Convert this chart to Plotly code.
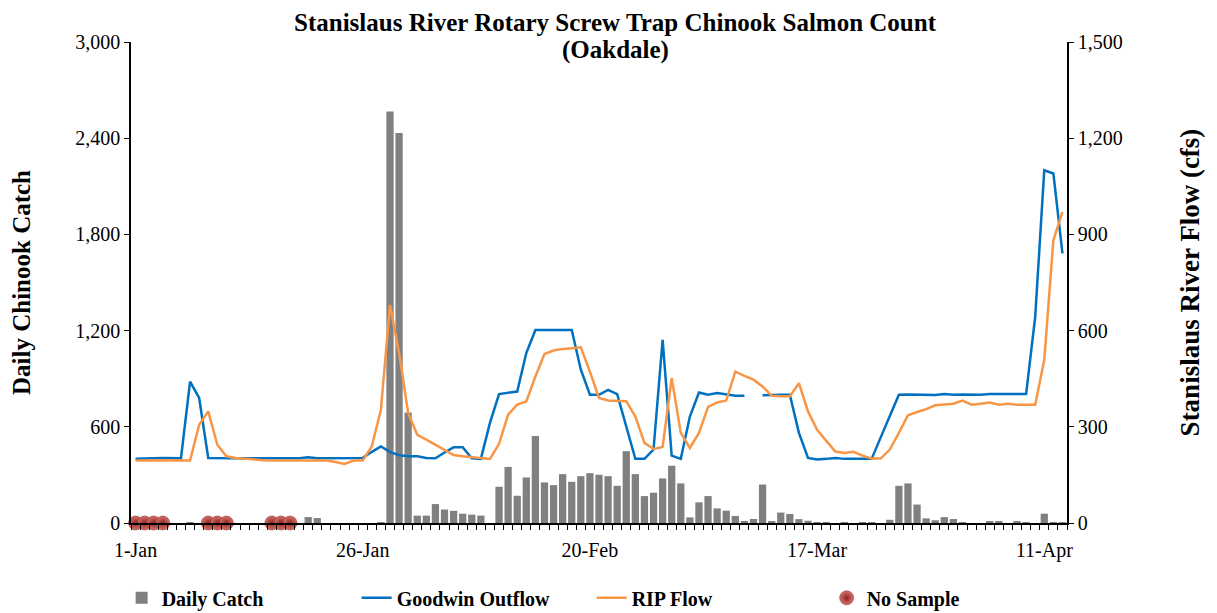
import plotly.graph_objects as go
import pandas as pd

# ---------------- data ----------------
start_date = "2013-01-01"
n_days = 103
dates = [d.strftime("%Y-%m-%d") for d in pd.date_range(start_date, periods=n_days, freq="D")]

daily_catch = [
    0, 0, 0, 0, 0, 0, 3, 0, 0, 0,
    0, 0, 0, 0, 0, 0, 0, 0, 0, 37,
    31, 0, 0, 0, 0, 0, 0, 5, 2566, 2432,
    689, 46, 46, 118, 84, 76, 58, 52, 46, 0,
    226, 350, 170, 284, 543, 253, 236, 305, 257, 292,
    311, 301, 292, 232, 448, 305, 168, 189, 278, 357,
    247, 35, 129, 168, 91, 77, 44, 12, 25, 240,
    12, 65, 56, 24, 14, 3, 2, 0, 4, 0,
    4, 4, 0, 20, 232, 247, 115, 29, 17, 37,
    25, 3, 0, 0, 10, 8, 0, 12, 5, 0,
    58, 4, 2,
]

goodwin_outflow = [
    200, 200, 202, 203, 203, 202, 441, 390, 203, 202,
    202, 202, 202, 202, 202, 202, 202, 202, 202, 205,
    202, 202, 202, 202, 202, 203, 222, 239, 222, 211,
    208, 208, 203, 202, 220, 236, 236, 202, 200, 312,
    402, 405, 410, 530, 602, 602, 602, 602, 602, 478,
    400, 400, 415, 402, 301, 200, 200, 229, 571, 210,
    200, 332, 407, 400, 405, 400, 397, 397, None, 398,
    400, 400, 400, 281, 203, 198, 200, 203, 200, 200,
    200, 200, 267, 333, 400, 401, 400, 400, 399, 402,
    400, 401, 400, 400, 402, 402, 401, 401, 402, 643,
    1100, 1090, 841,
]

rip_flow = [
    195, 194, 195, 196, 195, 195, 195, 306, 348, 244,
    208, 203, 200, 198, 196, 195, 195, 195, 195, 195,
    195, 195, 190, 184, 195, 195, 239, 353, 680, 530,
    343, 275, 260, 244, 226, 212, 208, 206, 203, 200,
    247, 338, 369, 379, 457, 527, 538, 543, 545, 548,
    472, 390, 382, 382, 380, 332, 250, 231, 237, 452,
    281, 234, 281, 362, 376, 382, 472, 459, 447, 426,
    397, 395, 395, 436, 348, 291, 258, 223, 218, 222,
    210, 201, 201, 229, 281, 336, 346, 355, 367, 369,
    372, 382, 369, 372, 376, 369, 372, 369, 369, 369,
    509, 882, 970,
]

no_sample_dates = [
    "2013-01-01", "2013-01-02", "2013-01-03", "2013-01-04",
    "2013-01-09", "2013-01-10", "2013-01-11",
    "2013-01-16", "2013-01-17", "2013-01-18",
]
no_sample_values = [0] * len(no_sample_dates)

title_line1 = "Stanislaus River Rotary Screw Trap Chinook Salmon Count"
title_line2 = "(Oakdale)"

# ---------------- styling ----------------
FONT = "Liberation Serif, Times New Roman, serif"
DAY_MS = 86400000
W, H = 1209, 605

fig = go.Figure()

fig.add_trace(go.Bar(
    x=dates, y=daily_catch, name="Daily Catch",
    marker=dict(color="#808080", line=dict(width=0)),
    yaxis="y",
))
fig.add_trace(go.Scatter(
    x=dates, y=goodwin_outflow, name="Goodwin Outflow", mode="lines",
    line=dict(color="#0070C0", width=2.5), connectgaps=False,
    yaxis="y2",
))
fig.add_trace(go.Scatter(
    x=dates, y=rip_flow, name="RIP Flow", mode="lines",
    line=dict(color="#F79646", width=2.5),
    yaxis="y2",
))
fig.add_trace(go.Scatter(
    x=no_sample_dates, y=no_sample_values, name="No Sample", mode="markers",
    marker=dict(size=14, color="#dc6f6a",
                gradient=dict(type="radial", color="#8a2622"),
                line=dict(color="#7a2522", width=0.5)),
    cliponaxis=False,
    yaxis="y",
))

fig.update_layout(
    width=W, height=H,
    paper_bgcolor="white", plot_bgcolor="white",
    margin=dict(l=123, r=150, t=34, b=90, autoexpand=False),
    font=dict(family=FONT, color="black", size=20),
    title=dict(
        text="<b>" + title_line1 + "</b>",
        x=607 / W, xanchor="center", xref="container",
        y=1 - 14 / H, yanchor="middle", yref="container",
        font=dict(family=FONT, size=25, color="black"),
    ),
    annotations=[dict(
        text="<b>" + title_line2 + "</b>", showarrow=False,
        xref="paper", yref="paper",
        x=(607 - 123) / 936, y=1 + (34 - 42) / 481,
        xanchor="center", yanchor="middle",
        font=dict(family=FONT, size=25, color="black"),
    )],
    bargap=0.2,
    showlegend=True,
    legend=dict(
        orientation="h", x=-0.01, xanchor="left", y=-0.115, yanchor="top",
        font=dict(family=FONT, size=20, color="black", weight="bold"),
        entrywidth=190, entrywidthmode="pixels",
        bgcolor="rgba(0,0,0,0)",
    ),
    xaxis=dict(
        type="date",
        range=["2012-12-31 12:00", "2013-04-13 12:00"],
        tick0="2013-01-01", dtick=25 * DAY_MS, tickformat="%-d-%b",
        ticks="", ticklabelstandoff=8,
        minor=dict(ticks="outside", ticklen=5, tickcolor="black", tickwidth=1,
                   tick0="2013-01-01 12:00", dtick=DAY_MS, showgrid=False),
        showline=True, linecolor="black", linewidth=1.5,
        showgrid=False, zeroline=False,
        tickfont=dict(family=FONT, size=20, color="black"),
    ),
    yaxis=dict(
        range=[0, 3000], tick0=0, dtick=600, tickformat=",d",
        ticks="outside", ticklen=5, tickcolor="black",
        showline=True, linecolor="black", linewidth=1.5,
        showgrid=False, zeroline=False,
        tickfont=dict(family=FONT, size=20, color="black"),
        title=dict(text="<b>Daily Chinook Catch</b>", standoff=40,
                   font=dict(family=FONT, size=25, color="black")),
    ),
    yaxis2=dict(
        overlaying="y", side="right",
        range=[0, 1500], tick0=0, dtick=300, tickformat=",d",
        ticks="outside", ticklen=5, tickcolor="black",
        showline=True, linecolor="black", linewidth=1.5,
        showgrid=False, zeroline=False,
        tickfont=dict(family=FONT, size=20, color="black"),
        title=dict(text="<b>Stanislaus River Flow (cfs)</b>", standoff=58,
                   font=dict(family=FONT, size=27, color="black")),
    ),
)

fig.write_html("out.html")
